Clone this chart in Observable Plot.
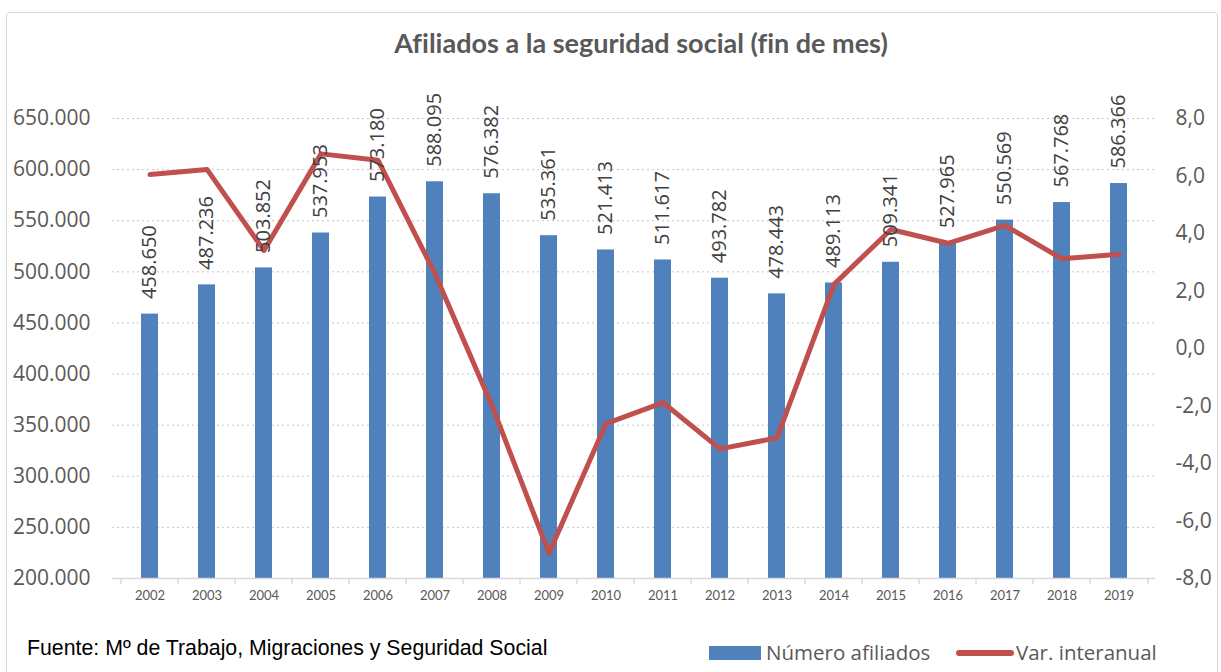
<!DOCTYPE html>
<html>
<head>
<meta charset="utf-8">
<script src="https://cdn.jsdelivr.net/npm/d3@7"></script>
<script src="https://cdn.jsdelivr.net/npm/@observablehq/plot@0.6"></script>
<style>
  html, body { margin: 0; padding: 0; background: #fff; }
  #wrap { position: relative; width: 1221px; height: 672px; overflow: hidden; background: #fff; }
  #frame { position: absolute; left: 6px; top: 12px; width: 1212px; height: 680px; border: 1px solid #D9D9D9; border-radius: 4px; box-sizing: border-box; }
  #title { position: absolute; left: 0; width: 1282px; top: 26px; text-align: center; font-family: Lato, sans-serif; font-weight: bold; font-size: 27px; color: #595959; white-space: nowrap; font-variant-ligatures: none; }
  #chart { position: absolute; left: 0; top: 0; }
  #caption { position: absolute; left: 27px; top: 636px; font-family: "Liberation Sans", Arial, sans-serif; font-size: 21.3px; color: #000; white-space: nowrap; }
  #legend { position: absolute; left: 709px; top: 638px; font-family: "Open Sans", sans-serif; font-size: 20.5px; color: #595959; height: 28px; width: 500px; }
  .sw-bar { position: absolute; left: 0; top: 8px; width: 52px; height: 14px; background: #4F81BD; }
  .sw-line { position: absolute; left: 247px; top: 12px; width: 58px; height: 6px; background: #C0504D; border-radius: 3px; }
  .lt1 { position: absolute; left: 57px; top: 0; white-space: nowrap; }
  .lt2 { position: absolute; left: 307px; top: 0; white-space: nowrap; }
</style>
</head>
<body>
<div id="wrap">
  <div id="frame"></div>
  <div id="chart"></div>
  <div id="title">Afiliados a la seguridad social (fin de mes)</div>
  <div id="caption">Fuente: Mº de Trabajo, Migraciones y Seguridad Social</div>
  <div id="legend">
    <div class="sw-bar"></div><span class="lt1">Número afiliados</span>
    <div class="sw-line"></div><span class="lt2">Var. interanual</span>
  </div>
</div>
<script>
// ---- Data ----
const years = ["2002","2003","2004","2005","2006","2007","2008","2009","2010","2011","2012","2013","2014","2015","2016","2017","2018","2019"];
const afiliados = [458650, 487236, 503852, 537953, 573180, 588095, 576382, 535361, 521413, 511617, 493782, 478443, 489113, 509341, 527965, 550569, 567768, 586366];
const varInteranual = [6.05, 6.23, 3.41, 6.77, 6.55, 2.60, -1.99, -7.12, -2.61, -1.88, -3.49, -3.11, 2.23, 4.14, 3.66, 4.28, 3.12, 3.28];
const leftTicks = [200000, 250000, 300000, 350000, 400000, 450000, 500000, 550000, 600000, 650000];
const rightTicks = [-8, -6, -4, -2, 0, 2, 4, 6, 8];

const rows = years.map((year, i) => ({year, afiliados: afiliados[i], variacion: varInteranual[i]}));

// ---- Dual axis mapping ----
const LMIN = 200000, LMAX = 650000, RMIN = -8, RMAX = 8;
const toLeft = v => LMIN + (v - RMIN) / (RMAX - RMIN) * (LMAX - LMIN);
const toRight = y => RMIN + (y - LMIN) / (LMAX - LMIN) * (RMAX - RMIN);

const loc = d3.formatLocale({decimal: ",", thousands: ".", grouping: [3], currency: ["", "€"], minus: "-"});
const fmtInt = loc.format(",d");
const fmtR = loc.format(".1f");

// ---- Layout ----
const W = 1221, H = 672, mL = 112, mR = 66, mT = 118, mB = 94;
const step = (W - mL - mR) / years.length;

const chart = Plot.plot({
  width: W, height: H,
  marginLeft: mL, marginRight: mR, marginTop: mT, marginBottom: mB,
  style: {fontFamily: "'Open Sans', sans-serif", background: "transparent", overflow: "visible"},
  x: {type: "band", domain: years, paddingInner: 0.706, paddingOuter: 0.353, axis: null},
  y: {domain: [LMIN, LMAX], axis: null},
  marks: [
    Plot.gridY(leftTicks.filter(d => d > LMIN), {stroke: "#C6C6C6", strokeOpacity: 1, strokeDasharray: "2,3"}),
    Plot.barY(rows, {x: "year", y1: LMIN, y2: "afiliados", fill: "#4F81BD"}),
    Plot.ruleY([LMIN], {stroke: "#D9D9D9", strokeWidth: 1.5}),
    Plot.ruleX(years, {x: d => d, y1: LMIN, y2: LMIN, insetBottom: -6, dx: -step / 2, stroke: "#D9D9D9", strokeWidth: 1.5}),
    Plot.ruleX([years[years.length - 1]], {x: d => d, y1: LMIN, y2: LMIN, insetBottom: -6, dx: step / 2, stroke: "#D9D9D9", strokeWidth: 1.5}),
    Plot.line(rows, {x: "year", y: d => toLeft(d.variacion), stroke: "#C0504D", strokeWidth: 5, strokeLinejoin: "round", strokeLinecap: "round"}),
    Plot.text(rows, {x: "year", y: "afiliados", text: d => fmtInt(d.afiliados), rotate: -90, textAnchor: "start", dy: -15, fontSize: 20, fill: "#404040"}),
    Plot.axisY(leftTicks, {anchor: "left", tickSize: 0, tickPadding: 22, tickFormat: d => fmtInt(d), fontSize: 21, fill: "#595959", label: null}),
    Plot.axisY(rightTicks.map(toLeft), {anchor: "right", tickSize: 0, tickPadding: 20, tickFormat: d => fmtR(Math.round(toRight(d) * 10) / 10), fontSize: 21, fill: "#595959", label: null}),
    Plot.axisX({tickSize: 0, tickPadding: 12, fontSize: 13, fontFamily: "Lato, sans-serif", fill: "#595959", label: null})
  ]
});
document.getElementById("chart").appendChild(chart);
</script>
</body>
</html>
